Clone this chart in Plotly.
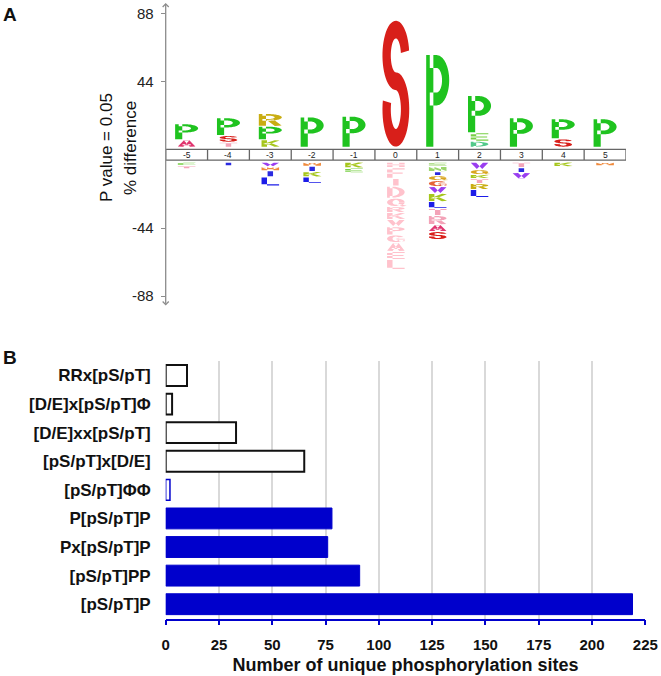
import numpy as np
import plotly.graph_objects as go

FIG_W, FIG_H = 661, 676
FONT = "Liberation Sans, Arial, Helvetica, sans-serif"

# ---------------- Panel A data (pLogo) ----------------
positions = [-5, -4, -3, -2, -1, 0, 1, 2, 3, 4, 5]
up_letters = [["A", "P"], ["T", "S", "P"], ["K", "P", "R"], ["P"], ["P"], ["S"], ["P"],
              ["D", "E", "P"], ["P"], ["S", "P"], ["P"]]
up_heights = [[4.8, 10.4], [3.2, 4.4, 11.5], [4.8, 8.8, 8.2], [19.6], [20.1], [82.2], [60.0],
              [3.9, 5.5, 24.1], [19.1], [5.4, 13.0], [18.4]]
down_letters = [["E", "T"], ["I"], ["V", "M", "I", "L"], ["M", "I", "K", "L"], ["K", "E"],
                ["H", "F", "I", "D", "Q", "R", "K", "V", "P", "G", "A", "E", "L"],
                ["E", "N", "I", "Q", "G", "V", "K", "L", "T", "R", "A", "S"],
                ["V", "Q", "K", "T", "R", "L"],
                ["T", "I", "V"], ["K"], ["M"]]
down_heights = [[2.2, 2.0], [2.4], [3.0, 2.6, 3.9, 5.9], [2.6, 3.5, 3.4, 4.2], [3.7, 3.1],
                [3.5, 7.0, 5.0, 7.8, 5.4, 3.9, 4.5, 4.6, 5.4, 4.9, 5.8, 5.2, 6.5],
                [2.8, 3.3, 2.6, 3.2, 3.9, 4.5, 5.2, 4.5, 4.5, 5.9, 4.5, 5.2],
                [4.8, 3.2, 2.6, 3.2, 3.9, 5.2],
                [3.5, 3.2, 4.1], [2.9], [2.4]]
y_tick_values = [88, 44, -44, -88]

# ---------------- Panel B data ----------------
motifs = ["RRx[pS/pT]", "[D/E]x[pS/pT]Φ", "[D/E]xx[pS/pT]", "[pS/pT]x[D/E]", "[pS/pT]ΦΦ",
          "P[pS/pT]P", "Px[pS/pT]P", "[pS/pT]PP", "[pS/pT]P"]
site_counts = [10, 3, 33, 65, 2, 78, 76, 91, 219]

# ---------------- styles ----------------
residue_colors = {"P": "#1fc31f", "S": "#d81f1a", "R": "#c9ad12", "K": "#a6c61c", "L": "#1c1ce8",
                  "E": "#78cf45", "D": "#52c98a", "A": "#e0356f", "V": "#9a3ef0", "T": "#f3a3b8",
                  "I": "#2a2ae0", "M": "#f08a3c", "Q": "#d9a520", "G": "#e4643a", "N": "#9bd66c",
                  "H": "#f7b5c4", "F": "#f7b5c4"}
fixed_col_color = "#ffc2cc"
color_override = {(1, "R"): "#f3a3b8", (1, "E"): "#9bd66c"}
BLUE = "#0000cc"

# ---------------- glyph machinery ----------------
GW, HT = 0.45, 0.07


def _arc(cx, cy, rx, ry, a0, a1, n=40):
    t = np.radians(np.linspace(a0, a1, n))
    return np.column_stack([cx + rx * np.cos(t), cy + ry * np.sin(t)])


def _stroke(pts, h=HT):
    pts = np.asarray(pts, dtype=float)
    keep = [0]
    for i in range(1, len(pts)):
        if np.linalg.norm(pts[i] - pts[keep[-1]]) > 1e-9:
            keep.append(i)
    pts = pts[keep]
    d = np.diff(pts, axis=0)
    nrm = np.column_stack([-d[:, 1], d[:, 0]])
    nrm /= np.linalg.norm(nrm, axis=1, keepdims=True)
    vn = np.empty_like(pts)
    vn[0], vn[-1] = nrm[0], nrm[-1]
    for i in range(1, len(pts) - 1):
        m = nrm[i - 1] + nrm[i]
        ln = np.linalg.norm(m)
        m = m / ln if ln > 1e-9 else nrm[i]
        c = max(float(np.dot(m, nrm[i])), 0.4)
        vn[i] = m / c
    return np.vstack([pts + vn * h, (pts - vn * h)[::-1]])


def _seg(a, b):
    return _stroke([a, b])


def glyph_polys(ch):
    W, h = GW, HT
    xm = W / 2
    stemL = _seg((h, 0), (h, 1))
    stemR = _seg((W - h, 0), (W - h, 1))

    def bowl(yb, yt, xr):
        cy, ry, rx = (yb + yt) / 2, (yt - yb) / 2, W - h - xr
        return _stroke(np.vstack([[[h, yt]], _arc(xr, cy, rx, ry, 90, -90), [[h, yb]]]))

    if ch == "P":
        return [stemL, bowl(0.52, 1 - h, 0.2)]
    if ch == "R":
        return [stemL, bowl(0.50, 1 - h, 0.18), _seg((0.22, 0.5), (W - h, 0))]
    if ch == "S":
        up = _arc(xm, 0.725, xm - h, 0.205, 8, 270)
        lo = _arc(xm, 0.295, xm - h, 0.225, 90, -196)
        return [_stroke(np.vstack([up, lo[1:]]))]
    if ch == "K":
        return [stemL, _seg((h + 0.03, 0.38), (W - h + 0.02, 1)), _seg((0.18, 0.56), (W - h + 0.02, 0))]
    if ch == "L":
        return [stemL, _seg((0, h), (W, h))]
    if ch == "E":
        return [stemL, _seg((0, 1 - h), (W, 1 - h)), _seg((0, 0.5), (W - 0.03, 0.5)), _seg((0, h), (W, h))]
    if ch == "F":
        return [stemL, _seg((0, 1 - h), (W, 1 - h)), _seg((0, 0.48), (W - 0.05, 0.48))]
    if ch == "T":
        return [_seg((0, 1 - h), (W, 1 - h)), _seg((xm, 0), (xm, 1))]
    if ch == "I":
        return [_seg((xm, 0), (xm, 1))]
    if ch == "H":
        return [stemL, stemR, _seg((0, 0.5), (W, 0.5))]
    if ch == "N":
        return [stemL, stemR, _seg((h, 1), (W - h, 0))]
    if ch == "M":
        return [stemL, stemR, _seg((h, 1), (xm, 0.3)), _seg((xm, 0.3), (W - h, 1))]
    if ch == "A":
        return [_seg((h, 0), (xm, 1)), _seg((xm, 1), (W - h, 0)), _seg((0.12, 0.3), (W - 0.12, 0.3))]
    if ch == "V":
        return [_seg((h, 1), (xm, 0)), _seg((xm, 0), (W - h, 1))]
    if ch == "D":
        return [stemL, bowl(h, 1 - h, 0.12)]
    if ch in "OQ":
        ring = _stroke(_arc(xm, 0.5, xm - h, 0.5 - h, 0, 368, 60))
        return [ring] + ([_seg((0.26, 0.22), (W, -0.02))] if ch == "Q" else [])
    if ch == "G":
        return [_stroke(_arc(xm, 0.5, xm - h, 0.5 - h, 35, 360, 50)),
                _seg((0.24, 0.45), (W, 0.45)), _seg((W - h, 0.45), (W - h, 0.12))]
    return [_seg((xm, 0), (xm, 1))]


def glyph_path(ch, xc, width, y0, y1):
    parts = []
    for poly in glyph_polys(ch):
        xs = xc + (poly[:, 0] / GW - 0.5) * width
        ys = y0 + poly[:, 1] * (y1 - y0)
        pts = " L ".join(f"{x:.4f},{y:.4f}" for x, y in zip(xs, ys))
        parts.append(f"M {pts} Z")
    return " ".join(parts)


BAND = 3.5   # half height of the position band (in % units)
BASE = 1.7   # gap between band and first letter
PAD = 0.7    # gap between stacked letters


def disp(v):
    return v + BAND if v >= 0 else v - BAND


def letter_width(ch, hh, up):
    if up and ch == "S" and hh > 40:
        return 0.64
    if up and hh >= 8:
        return 0.55
    return 0.42


shapes = []
for p, lets, hs in zip(positions, up_letters, up_heights):
    y = BAND + BASE
    for ch, hh in zip(lets, hs):
        shapes.append(dict(type="path", xref="x", yref="y", layer="above",
                           path=glyph_path(ch, p, letter_width(ch, hh, True), y, y + hh - PAD),
                           fillcolor=residue_colors[ch], line=dict(width=0)))
        y += hh
for p, lets, hs in zip(positions, down_letters, down_heights):
    y = -(BAND + BASE)
    for ch, hh in zip(lets, hs):
        col = fixed_col_color if p == 0 else color_override.get((p, ch), residue_colors[ch])
        shapes.append(dict(type="path", xref="x", yref="y", layer="above",
                           path=glyph_path(ch, p, letter_width(ch, hh, False), y - hh + PAD, y),
                           fillcolor=col, line=dict(width=0)))
        y -= hh

# position band
xlo, xhi = positions[0] - 0.5, positions[-1] + 0.5
shapes.append(dict(type="rect", xref="x", yref="y", x0=xlo, x1=xhi, y0=-BAND, y1=BAND,
                   line=dict(color="#666666", width=1.3), fillcolor="white", layer="below"))
for p in positions[:-1]:
    shapes.append(dict(type="line", xref="x", yref="y", x0=p + 0.5, x1=p + 0.5, y0=-BAND, y1=BAND,
                       line=dict(color="#666666", width=1.3)))

annotations = []
for p in positions:
    annotations.append(dict(x=p, y=0, xref="x", yref="y", text=str(p), showarrow=False,
                            font=dict(size=8.5, color="#222", family=FONT)))

Y_RANGE = [-98.6, 98.2]
# axis with arrowheads at both ends
annotations.append(dict(x=xlo, y=Y_RANGE[1], ax=xlo, ay=Y_RANGE[0], xref="x", yref="y",
                        axref="x", ayref="y", text="", showarrow=True, arrowside="end+start",
                        arrowhead=4, startarrowhead=4, arrowsize=0.9, startarrowsize=0.9,
                        arrowwidth=1.3, arrowcolor="#8c8c8c", standoff=0, startstandoff=0))

# axis titles (panel A)
annotations.append(dict(x=106 / FIG_W, y=1 - 148 / FIG_H, xref="paper", yref="paper",
                        xanchor="center", yanchor="middle",
                        text="P value = 0.05", textangle=-90, showarrow=False,
                        font=dict(size=17, color="#111", family=FONT)))
annotations.append(dict(x=130 / FIG_W, y=1 - 148 / FIG_H, xref="paper", yref="paper",
                        xanchor="center", yanchor="middle",
                        text="% difference", textangle=-90, showarrow=False,
                        font=dict(size=17, color="#111", family=FONT)))
# panel letters
annotations.append(dict(x=1 / FIG_W, y=1 - 15 / FIG_H, xref="paper", yref="paper", text="A",
                        showarrow=False, xanchor="left", yanchor="middle",
                        font=dict(size=19, color="#111", family=FONT, weight="bold")))
annotations.append(dict(x=1 / FIG_W, y=1 - 357 / FIG_H, xref="paper", yref="paper", text="B",
                        showarrow=False, xanchor="left", yanchor="middle",
                        font=dict(size=19, color="#111", family=FONT, weight="bold")))

fig = go.Figure()
# invisible trace to activate panel A axes
fig.add_trace(go.Scatter(x=[xlo, xhi], y=[0, 0], mode="markers", marker=dict(opacity=0),
                         hoverinfo="skip", showlegend=False, xaxis="x", yaxis="y"))

fill_colors = ["white"] * 5 + [BLUE] * 4
line_colors = ["#111111"] * 4 + [BLUE] * 5
line_widths = [2] * 4 + [1.5] + [1] * 4
fig.add_trace(go.Bar(y=motifs, x=site_counts, orientation="h", xaxis="x2", yaxis="y2",
                     marker=dict(color=fill_colors, line=dict(color=line_colors, width=line_widths)),
                     showlegend=False))

fig.update_layout(
    width=FIG_W, height=FIG_H, margin=dict(l=0, r=0, t=0, b=0),
    paper_bgcolor="white", plot_bgcolor="white", template="none",
    font=dict(family=FONT, color="#111"),
    bargap=0.27,
    shapes=shapes, annotations=annotations,
    xaxis=dict(domain=[165.7 / FIG_W, 626 / FIG_W], range=[xlo, xhi], visible=False, fixedrange=True),
    yaxis=dict(domain=[1 - 307 / FIG_H, 1 - 3 / FIG_H], range=Y_RANGE,
               tickvals=[disp(v) for v in y_tick_values], ticktext=[str(v) for v in y_tick_values],
               ticks="outside", ticklen=4, tickwidth=1.3, tickcolor="#8c8c8c",
               showline=False, showgrid=False, zeroline=False,
               tickfont=dict(size=15, color="#222", family=FONT), ticklabelstandoff=4),
    xaxis2=dict(domain=[165.7 / FIG_W, 645.3 / FIG_W], range=[0, 225], dtick=25, tick0=0,
                anchor="y2", showgrid=True, gridcolor="#d9d9d9", gridwidth=1.5, zeroline=False,
                showline=True, linecolor=BLUE, linewidth=1.5, ticks="outside", ticklen=5,
                tickwidth=1.5, tickcolor=BLUE, ticklabelstandoff=7,
                tickfont=dict(size=15, color="#111", family=FONT, weight="bold"),
                title=dict(text="Number of unique phosphorylation sites", standoff=6,
                           font=dict(size=18, color="#111", family=FONT, weight="bold"))),
    yaxis2=dict(domain=[1 - 618.5 / FIG_H, 1 - 361.2 / FIG_H], anchor="x2", autorange="reversed",
                showline=False, showgrid=False, zeroline=False, ticks="",
                tickfont=dict(size=17, color="#111", family=FONT, weight="bold"),
                ticklabelstandoff=14),
)

fig.write_html("out.html", config={"displayModeBar": False},
               post_script="document.body.style.margin='0px';")
